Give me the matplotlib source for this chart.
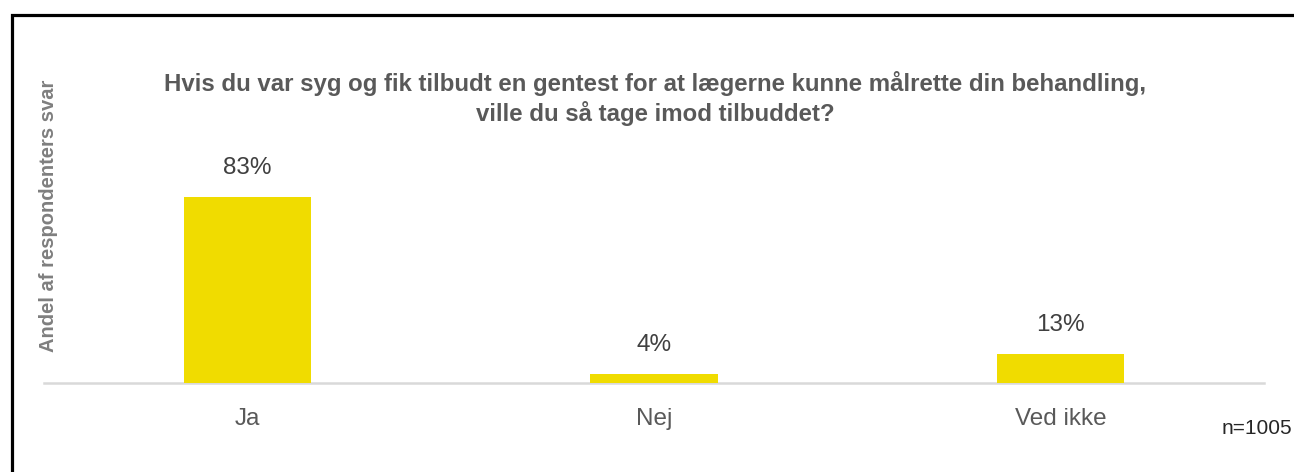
import matplotlib
matplotlib.use("Agg")
import matplotlib.pyplot as plt
from matplotlib.patches import Rectangle

categories = ["Ja", "Nej", "Ved ikke"]
values = [0.83, 0.04, 0.13]
value_labels = ["83%", "4%", "13%"]
title = "Hvis du var syg og fik tilbudt en gentest for at lægerne kunne målrette din behandling,\nville du så tage imod tilbuddet?"
ylabel = "Andel af respondenters svar"
note = "n=1005"

W, H = 1294, 472
plt.rcParams['font.family'] = ['Liberation Sans', 'DejaVu Sans']
fig = plt.figure(figsize=(W / 100, H / 100), dpi=100)

def fx(px):
    return px / W

def fy(py):
    return 1 - py / H

# axes: x from 44 to 1264, baseline y=383, ylim top at y=159
ax = fig.add_axes([fx(44), fy(383), fx(1264 - 44), (383 - 159) / H])
x = list(range(len(categories)))
ax.bar(x, values, width=0.313, color="#F0DC00", zorder=2)
ax.set_xlim(-0.5, 2.5)
ax.set_ylim(0, 1)
for xi, v, lab in zip(x, values, value_labels):
    ax.annotate(lab, (xi, v), xytext=(0, 13), textcoords="offset points",
                ha="center", va="bottom", fontsize=17.5, color="#404040")
ax.set_xticks(x)
ax.set_xticklabels(categories, fontsize=17.5, color="#595959")
ax.tick_params(axis="x", length=0, pad=18)
ax.set_yticks([])
for s in ["top", "right", "left"]:
    ax.spines[s].set_visible(False)
ax.spines["bottom"].set_color("#D9D9D9")
ax.spines["bottom"].set_linewidth(1.8)
ax.spines["bottom"].set_zorder(1)

fig.text(fx(655), fy(98.5), title, ha="center", va="center", fontsize=17.3,
         fontweight="bold", color="#595959", linespacing=1.22)
fig.text(fx(48.5), fy(216), ylabel, rotation=90, ha="center", va="center",
         fontsize=14.5, fontweight="bold", color="#7F7F7F")
fig.text(fx(1292), fy(428), note, ha="right", va="center", fontsize=15,
         color="#262626")

rect = Rectangle((fx(11.5), fy(600)), fx(1400), (600 - 14.5) / H,
                 transform=fig.transFigure, fill=False, edgecolor="black",
                 linewidth=2.3, clip_on=False)
fig.patches.append(rect)

fig.savefig("out.png", dpi=100)
